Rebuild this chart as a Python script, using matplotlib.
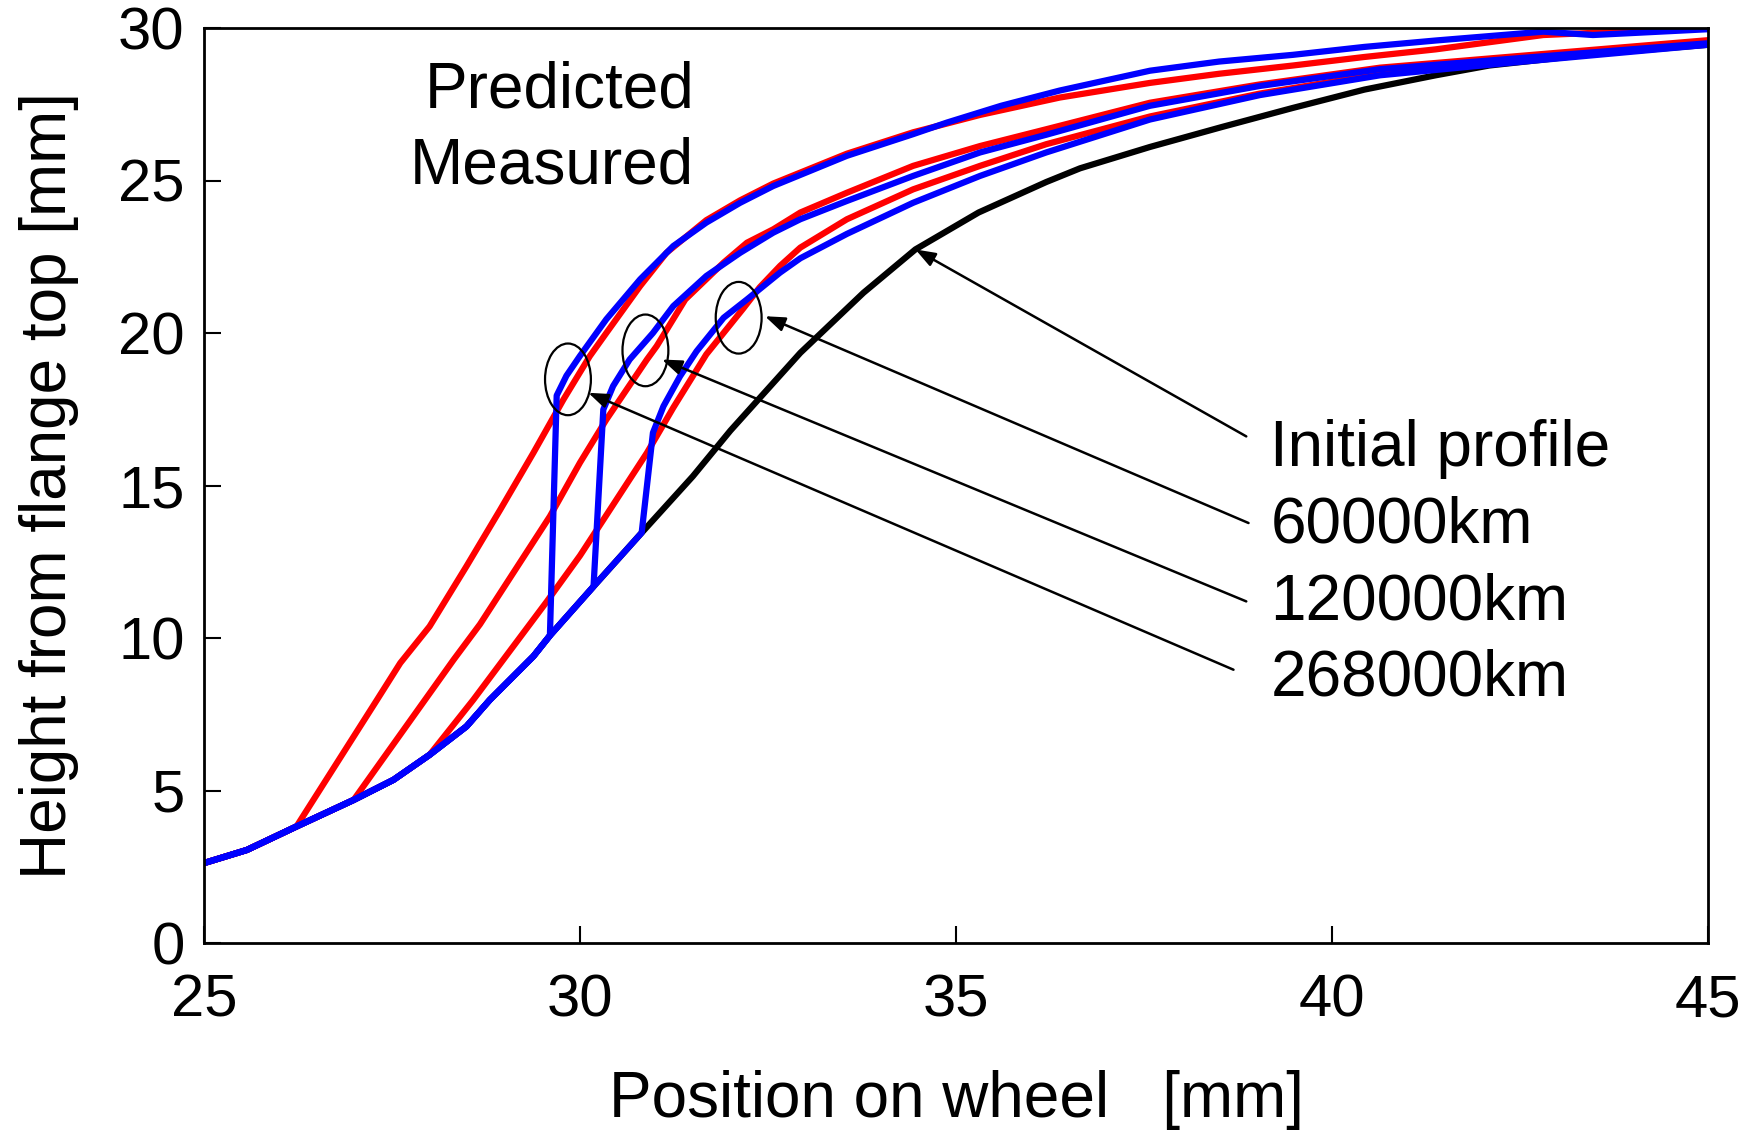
import matplotlib
matplotlib.use('Agg')
import matplotlib.pyplot as plt
from matplotlib.patches import Ellipse

plt.rcParams['font.family'] = ['Liberation Sans', 'DejaVu Sans']

# initial profile (black), the measured curves share its lower part
init_x = [25.0, 25.57, 26.23, 26.99, 27.52, 28.0, 28.49, 28.8, 29.38, 29.6, 30.18, 30.82,
          31.5, 32.0, 32.93, 33.77, 34.46, 35.3, 36.2, 36.65, 37.58, 38.53, 39.48, 40.43,
          41.38, 42.09, 43.5, 45.0]
init_y = [2.62, 3.05, 3.82, 4.69, 5.35, 6.17, 7.1, 7.97, 9.4, 10.08, 11.69, 13.45,
          15.3, 16.8, 19.35, 21.32, 22.74, 23.95, 24.95, 25.4, 26.1, 26.75, 27.38, 27.98,
          28.45, 28.77, 29.15, 29.45]

# predicted (red)
pred_268_x = init_x[:3] + [27.3, 27.61, 28.0, 28.49, 28.94, 29.38, 29.78, 30.13, 30.35, 30.8, 31.15,
                           31.68, 32.13, 32.57, 33.55, 34.43, 35.32, 36.38, 37.58, 38.5, 39.48, 40.43,
                           41.38, 42.81, 45.0]
pred_268_y = init_y[:3] + [7.97, 9.18, 10.38, 12.35, 14.21, 16.07, 17.82, 19.24, 20.0, 21.54, 22.63,
                           23.7, 24.35, 24.9, 25.88, 26.58, 27.15, 27.72, 28.2, 28.5, 28.77, 29.05,
                           29.3, 29.77, 30.0]
pred_120_x = init_x[:4] + [28.32, 28.67, 29.6, 30.0, 30.35, 30.89, 31.02, 31.4, 31.91, 32.22, 32.57,
                           32.93, 33.55, 34.43, 35.32, 36.2, 37.58, 39.04, 40.64, 42.33, 45.0]
pred_120_y = init_y[:4] + [9.29, 10.45, 13.99, 15.75, 17.16, 19.13, 19.57, 21.1, 22.31, 22.96, 23.4,
                           23.95, 24.6, 25.48, 26.13, 26.68, 27.55, 28.15, 28.7, 29.05, 29.6]
pred_60_x = init_x[:6] + [28.58, 29.56, 30.0, 30.89, 31.24, 31.68, 32.17, 32.39, 32.66, 32.93, 33.55,
                          34.43, 35.32, 36.2, 37.58, 39.04, 40.64, 42.33, 45.0]
pred_60_y = init_y[:6] + [7.97, 11.2, 12.7, 16.07, 17.55, 19.3, 20.8, 21.5, 22.2, 22.8, 23.73,
                          24.71, 25.48, 26.19, 27.1, 27.85, 28.5, 28.95, 29.55]

# measured (blue)
meas_268_x = init_x[:10] + [29.69, 29.82, 30.0, 30.35, 30.8, 31.24, 31.68, 32.13, 32.57, 33.55, 34.43,
                            34.88, 35.6, 36.38, 37.58, 38.5, 39.48, 40.43, 41.38, 42.81, 43.47, 45.0]
meas_268_y = init_y[:10] + [17.95, 18.6, 19.25, 20.45, 21.76, 22.85, 23.62, 24.27, 24.82, 25.81, 26.52,
                            26.9, 27.45, 27.95, 28.6, 28.9, 29.12, 29.38, 29.59, 29.88, 29.77, 29.96]
meas_120_x = init_x[:11] + [30.31, 30.44, 30.66, 30.97, 31.24, 31.68, 32.13, 32.57, 32.93, 33.55, 34.43,
                            35.32, 36.2, 37.58, 39.04, 40.64, 42.33, 45.0]
meas_120_y = init_y[:11] + [17.49, 18.26, 19.13, 20.0, 20.88, 21.87, 22.63, 23.29, 23.73, 24.33, 25.15,
                            25.92, 26.5, 27.45, 28.1, 28.65, 28.98, 29.5]
meas_60_x = init_x[:12] + [30.89, 30.97, 31.11, 31.33, 31.55, 31.91, 32.22, 32.66, 32.93, 33.55, 34.43,
                           35.32, 36.2, 37.58, 39.04, 40.64, 42.33, 45.0]
meas_60_y = init_y[:12] + [14.98, 16.73, 17.6, 18.58, 19.4, 20.5, 21.1, 21.98, 22.45, 23.25, 24.27,
                           25.15, 25.92, 27.0, 27.8, 28.45, 28.85, 29.45]

labels = ['Initial profile', '60000km', '120000km', '268000km']
label_y = [15.65, 13.14, 10.62, 8.1]
arrow_tip_x = [34.46, 32.46, 31.09, 30.11]
arrow_tip_y = [22.74, 20.55, 19.13, 18.04]
arrow_tail_x = [38.86, 38.89, 38.86, 38.69]
arrow_tail_y = [16.61, 13.77, 11.2, 8.96]
ellipse_x = [32.11, 30.87, 29.84]
ellipse_y = [20.5, 19.43, 18.48]

fig = plt.figure(figsize=(17.56, 11.31), dpi=100)
ax = fig.add_axes([204 / 1756, 1 - 943 / 1131, 1504 / 1756, 915 / 1131])

lw = 4.5
ax.plot(init_x, init_y, color='black', lw=lw)
for px, py in [(pred_268_x, pred_268_y), (pred_120_x, pred_120_y), (pred_60_x, pred_60_y)]:
    ax.plot(px, py, color='#ff0000', lw=lw)
for mx, my in [(meas_268_x, meas_268_y), (meas_120_x, meas_120_y), (meas_60_x, meas_60_y)]:
    ax.plot(mx, my, color='#0000ff', lw=lw)

# ellipses marking the step of each measured profile
for ex, ey in zip(ellipse_x, ellipse_y):
    ax.add_patch(Ellipse((ex, ey), 0.61, 2.35, fill=False, edgecolor='black', lw=1.6, zorder=5))

# arrows + labels
for i in range(len(labels)):
    ax.annotate('', xy=(arrow_tip_x[i], arrow_tip_y[i]), xytext=(arrow_tail_x[i], arrow_tail_y[i]),
                arrowprops=dict(arrowstyle='-|>,head_length=0.6,head_width=0.22', color='black',
                                lw=1.8, shrinkA=0, shrinkB=0, mutation_scale=20))
    ax.text(39.18, label_y[i], labels[i], fontsize=46, ha='left', va='baseline')

ax.text(31.52, 27.39, 'Predicted', fontsize=46, ha='right', va='baseline')
ax.text(31.52, 24.91, 'Measured', fontsize=46, ha='right', va='baseline')

ax.set_xlim(25, 45)
ax.set_ylim(0, 30)
ax.set_xticks([25, 30, 35, 40, 45])
ax.set_yticks([0, 5, 10, 15, 20, 25, 30])
ax.tick_params(direction='in', length=12, width=1.5, labelsize=43)
ax.tick_params(axis='x', pad=22)
ax.tick_params(axis='y', pad=14)
for s in ax.spines.values():
    s.set_linewidth(2)

ax.set_xlabel('Position on wheel   [mm]', fontsize=46, labelpad=30)
ax.set_ylabel('Height from flange top [mm]', fontsize=46, labelpad=28)

fig.savefig('out.png', dpi=100)
